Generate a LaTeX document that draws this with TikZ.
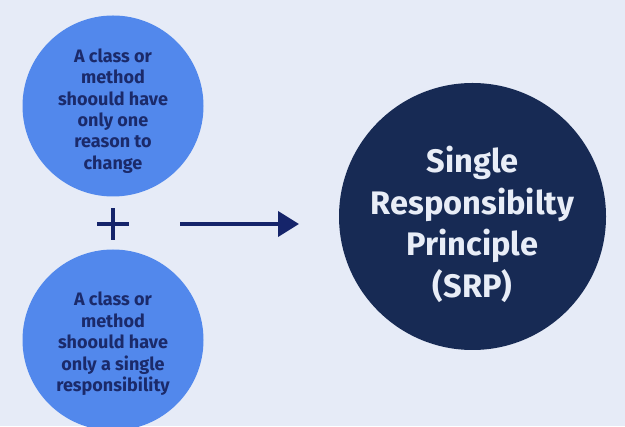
\documentclass[tikz,border=0pt]{standalone}
\usepackage{fontspec}
\setmainfont{Fira Sans}
\usetikzlibrary{arrows.meta,positioning}
\definecolor{bgblue}{HTML}{E6EBF7}
\definecolor{lightcirc}{HTML}{5288EC}
\definecolor{darktext}{HTML}{1B2A6A}
\definecolor{navycirc}{HTML}{172A54}
\definecolor{whitetext}{HTML}{E8EDF7}
\definecolor{arrownavy}{HTML}{15246A}

\begin{document}
\begin{tikzpicture}[x=0.03cm,y=0.03cm,
   idea/.style={circle,fill=lightcirc,minimum size=181*0.03cm,inner sep=0pt},
   ideatext/.style={text=darktext,align=center,inner sep=0pt,
      font=\fontsize{15.4}{18.3}\selectfont\bfseries},
   srp/.style={circle,fill=navycirc,minimum size=267*0.03cm,inner sep=0pt},
   srptext/.style={text=whitetext,align=center,inner sep=0pt,
      font=\fontsize{27.8}{35.6}\selectfont\bfseries},
   link/.style={draw=arrownavy,line width=4*0.03cm}]
   \useasboundingbox (0,0) rectangle (625,426);
   \fill[bgblue] (0,0) rectangle (625,426);
   \node[idea] (reason) at (113,320) {};
   \node[ideatext] (reasontext) at ([yshift=-0.15cm]reason.center)
      {A class or\\method\\shoould have\\only one\\reason to\\change};
   \node[idea] (single) at (113,86) {};
   \node[ideatext] (singletext) at ([yshift=-0.12cm]single.center)
      {A class or\\method\\shoould have\\only a single\\responsibility};
   \node[srp] (principle) at (472.5,209.5) {};
   \node[srptext] (principletext) at ([yshift=-0.24cm]principle.center)
      {Single\\Responsibilty\\Principle\\(SRP)};
   \coordinate (plus) at (113,202);
   \draw[link,line width=4.5*0.03cm] ([xshift=-16*0.03cm]plus) -- ([xshift=16*0.03cm]plus);
   \draw[link,line width=4.5*0.03cm] ([yshift=-16*0.03cm]plus) -- ([yshift=16*0.03cm]plus);
   \coordinate (from) at (180,202);
   \coordinate (to) at (299,202);
   \draw[link,-{Triangle[length=21*0.03cm,width=25*0.03cm]}] (from) -- (to);
\end{tikzpicture}
\end{document}
